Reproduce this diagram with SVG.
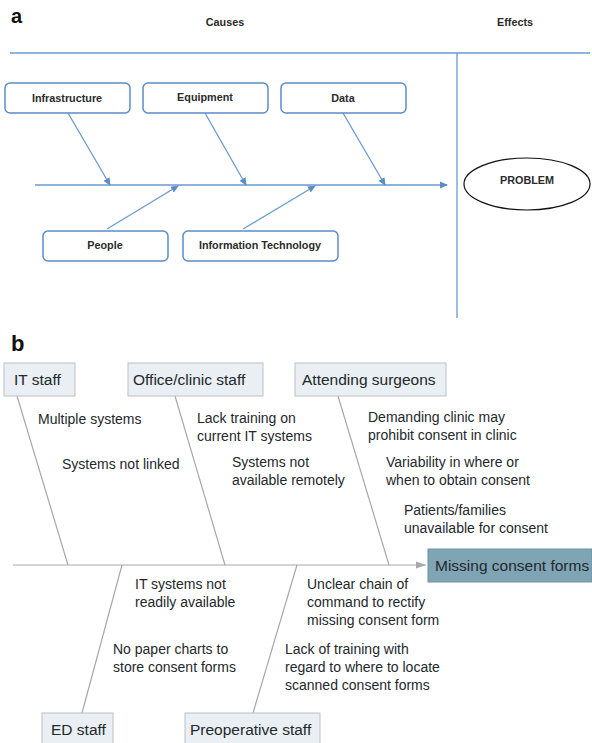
<svg xmlns="http://www.w3.org/2000/svg" width="592" height="743" viewBox="0 0 592 743">
  <style>
    .panel { font-family: "Liberation Sans", Arial, sans-serif; font-weight: bold; fill: #111; }
    .a-lbl { font-family: "Liberation Sans", Arial, sans-serif; font-weight: bold; font-size: 10.8px; fill: #2b2b2b; text-anchor: middle; }
    .a-box { fill: #fff; stroke: #5b8cc8; stroke-width: 1.5; }
    .a-line { stroke: #6a9ad4; stroke-width: 1.3; fill: none; }
    .b-box { fill: #e9eff3; stroke: #b9c2c8; stroke-width: 1; }
    .b-lbl { font-family: "Liberation Sans", Arial, sans-serif; font-size: 15.5px; fill: #23282c; }
    .b-txt { font-family: "Liberation Sans", Arial, sans-serif; font-size: 14px; fill: #23282c; }
    .b-line { stroke: #a8a8a8; stroke-width: 1.2; fill: none; }
  </style>
  <defs>
    <marker id="arrA" markerWidth="8" markerHeight="8" refX="7" refY="4" orient="auto" markerUnits="userSpaceOnUse">
      <path d="M0,0.5 L8,4 L0,7.5 Z" fill="#5b8cc8"/>
    </marker>
    <marker id="arrB" markerWidth="10" markerHeight="8" refX="10" refY="4" orient="auto" markerUnits="userSpaceOnUse">
      <path d="M0,0.5 L10,4 L0,7.5 Z" fill="#a8a8a8"/>
    </marker>
  </defs>

  <!-- Panel a: generic fishbone template -->
  <text class="panel" x="11" y="23" font-size="20">a</text>
  <text class="a-lbl" x="225" y="26">Causes</text>
  <text class="a-lbl" x="515" y="26">Effects</text>

  <g id="a-frame">
    <line class="a-line" x1="10" y1="53" x2="590" y2="53"/>
    <line class="a-line" x1="457" y1="53" x2="457" y2="318"/>
  </g>

  <g id="a-connectors">
    <line class="a-line" x1="35" y1="185" x2="447" y2="185" marker-end="url(#arrA)"/>
    <line class="a-line" x1="68" y1="113" x2="110" y2="185" marker-end="url(#arrA)"/>
    <line class="a-line" x1="205" y1="113" x2="246" y2="185" marker-end="url(#arrA)"/>
    <line class="a-line" x1="343" y1="113" x2="385" y2="185" marker-end="url(#arrA)"/>
    <line class="a-line" x1="107" y1="229" x2="178" y2="186" marker-end="url(#arrA)"/>
    <line class="a-line" x1="243" y1="229" x2="315" y2="186" marker-end="url(#arrA)"/>
  </g>

  <g id="a-infrastructure">
    <rect class="a-box" x="5" y="83" width="125" height="30" rx="5"/>
    <text class="a-lbl" x="67" y="102">Infrastructure</text>
  </g>
  <g id="a-equipment">
    <rect class="a-box" x="143" y="83" width="125" height="30" rx="5"/>
    <text class="a-lbl" x="205" y="101">Equipment</text>
  </g>
  <g id="a-data">
    <rect class="a-box" x="281" y="83" width="125" height="30" rx="5"/>
    <text class="a-lbl" x="343" y="102">Data</text>
  </g>
  <g id="a-people">
    <rect class="a-box" x="43" y="231" width="125" height="30" rx="5"/>
    <text class="a-lbl" x="105" y="249">People</text>
  </g>
  <g id="a-it">
    <rect class="a-box" x="183" y="231" width="155" height="30" rx="5"/>
    <text class="a-lbl" x="260" y="249">Information Technology</text>
  </g>
  <g id="a-problem">
    <ellipse cx="527" cy="184" rx="63" ry="26" fill="#fff" stroke="#111" stroke-width="1.2"/>
    <text class="a-lbl" x="527" y="184" fill="#222">PROBLEM</text>
  </g>

  <!-- Panel b: missing consent forms fishbone -->
  <text class="panel" x="11" y="351" font-size="22">b</text>

  <g id="b-connectors">
    <line class="b-line" x1="13" y1="565" x2="426" y2="565" marker-end="url(#arrB)"/>
    <line class="b-line" x1="17" y1="396" x2="68" y2="565"/>
    <line class="b-line" x1="175" y1="396" x2="225" y2="565"/>
    <line class="b-line" x1="338" y1="396" x2="389" y2="565"/>
    <line class="b-line" x1="122" y1="565" x2="82" y2="713"/>
    <line class="b-line" x1="297" y1="565" x2="253" y2="713"/>
  </g>

  <g id="b-it-staff">
    <rect class="b-box" x="4" y="363" width="71" height="33"/>
    <text class="b-lbl" x="14" y="385">IT staff</text>
  </g>
  <g id="b-office">
    <rect class="b-box" x="128" y="363" width="135" height="33"/>
    <text class="b-lbl" x="133" y="385">Office/clinic staff</text>
  </g>
  <g id="b-attending">
    <rect class="b-box" x="295" y="363" width="151" height="33"/>
    <text class="b-lbl" x="302" y="385">Attending surgeons</text>
  </g>
  <g id="b-ed">
    <rect class="b-box" x="42" y="713" width="71" height="34"/>
    <text class="b-lbl" x="51" y="735">ED staff</text>
  </g>
  <g id="b-preop">
    <rect class="b-box" x="185" y="713" width="135" height="34"/>
    <text class="b-lbl" x="190" y="735">Preoperative staff</text>
  </g>
  <g id="b-missing">
    <rect x="428" y="549" width="164" height="33" fill="#7fa5b4" stroke="#6e93a2" stroke-width="1"/>
    <text class="b-lbl" x="435" y="571" fill="#1d2c36">Missing consent forms</text>
  </g>

  <g id="b-causes">
    <text class="b-txt" x="38" y="424">Multiple systems</text>
    <text class="b-txt" x="62" y="469">Systems not linked</text>

    <text class="b-txt" x="197" y="423">Lack training on</text>
    <text class="b-txt" x="197" y="441">current IT systems</text>
    <text class="b-txt" x="232" y="467">Systems not</text>
    <text class="b-txt" x="232" y="485">available remotely</text>

    <text class="b-txt" x="368" y="422">Demanding clinic may</text>
    <text class="b-txt" x="368" y="440">prohibit consent in clinic</text>
    <text class="b-txt" x="386" y="467">Variability in where or</text>
    <text class="b-txt" x="386" y="485">when to obtain consent</text>
    <text class="b-txt" x="404" y="515">Patients/families</text>
    <text class="b-txt" x="404" y="533">unavailable for consent</text>

    <text class="b-txt" x="135" y="589">IT systems not</text>
    <text class="b-txt" x="135" y="607">readily available</text>
    <text class="b-txt" x="113" y="654">No paper charts to</text>
    <text class="b-txt" x="113" y="672">store consent forms</text>

    <text class="b-txt" x="307" y="589">Unclear chain of</text>
    <text class="b-txt" x="307" y="607">command to rectify</text>
    <text class="b-txt" x="307" y="625">missing consent form</text>
    <text class="b-txt" x="285" y="654">Lack of training with</text>
    <text class="b-txt" x="285" y="672">regard to where to locate</text>
    <text class="b-txt" x="285" y="690">scanned consent forms</text>
  </g>
</svg>
